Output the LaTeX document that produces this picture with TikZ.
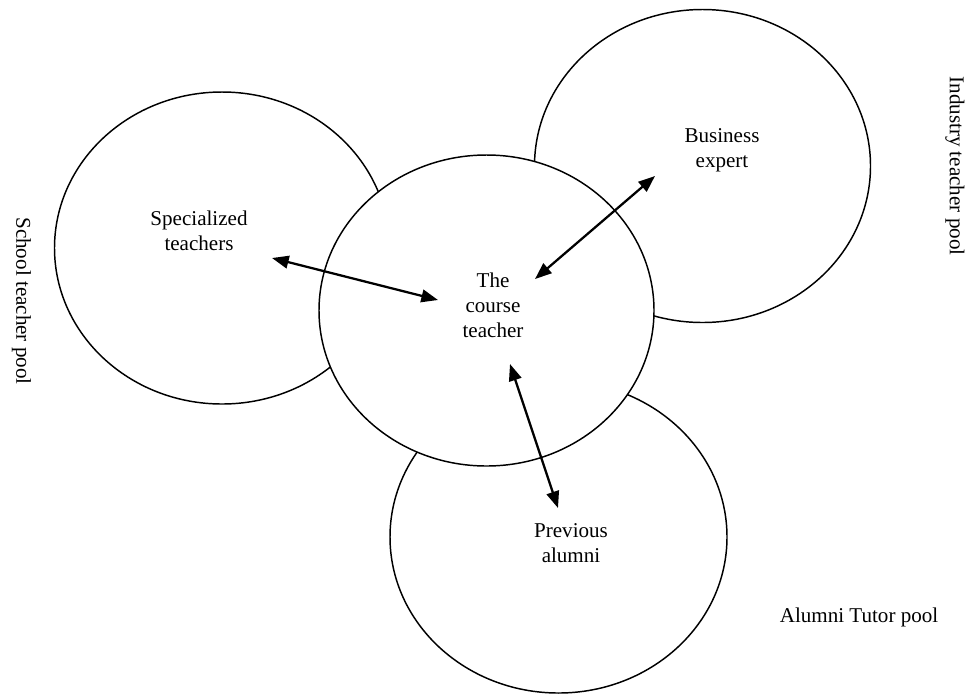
\documentclass[tikz,border=0pt]{standalone}
\usepackage{fontspec}
\setmainfont{Liberation Serif}
\usetikzlibrary{arrows.meta}

\tikzset{every picture/.style={line width=1.1pt}}
\tikzset{
  pool/.style={draw=black, line width=1.1pt},
  link/.style={{Triangle[length=12.5pt,width=9.5pt]}-{Triangle[length=12.5pt,width=9.5pt]}, line width=1.7pt},
  lbl/.style={inner sep=0.75pt, align=center, font=\fontsize{15.8}{18.8}\selectfont}
}

\begin{document}
\begin{tikzpicture}[x=0.75pt,y=0.75pt,yscale=-1,xscale=1]
    \path [use as bounding box] (0,0) rectangle (966,694); %set diagram size to 966 x 694

    %Shape: Ellipse [id:school]
    \draw [pool] (222,248) ellipse [x radius=167.5, y radius=156];
    %Shape: Ellipse [id:industry]
    \draw [pool] (702.5,166) ellipse [x radius=168, y radius=156.5];
    %Shape: Ellipse [id:alumni]
    \draw [pool] (558.5,537) ellipse [x radius=168.5, y radius=156];
    %Shape: Ellipse [id:course]
    \draw [pool, fill=white] (486.5,310.5) ellipse [x radius=167.5, y radius=155.5];

    % Text Node
    \node [lbl] (spec) at (199,231) {Specialized\\teachers};
    % Text Node
    \node [lbl] (busi) at (722,150) {Business\\expert};
    % Text Node
    \node [lbl] (course) at (493,305.5) {The\\course\\teacher};
    % Text Node
    \node [lbl] (alum) at (571,543) {Previous\\alumni};
    % Text Node
    \node [lbl, rotate=-90] (schoolpool) at (21.5,301) {School teacher pool};
    % Text Node
    \node [lbl, rotate=-90] (industrypool) at (955,166) {Industry teacher pool};
    % Text Node
    \node [lbl] (alumpool) at (859,617) {Alumni Tutor pool};

    %Arrow ends
    \coordinate (spec-e) at (272,258);
    \coordinate (course-w) at (438,300);
    \coordinate (course-ne) at (535,279);
    \coordinate (busi-sw) at (655,176);
    \coordinate (course-s) at (510,364);
    \coordinate (alum-n) at (558,508);

    %Straight Lines [id:spec-course]
    \draw [link] (spec-e) -- (course-w);
    %Straight Lines [id:course-busi]
    \draw [link] (course-ne) -- (busi-sw);
    %Straight Lines [id:course-alum]
    \draw [link] (course-s) -- (alum-n);

\end{tikzpicture}
\end{document}
